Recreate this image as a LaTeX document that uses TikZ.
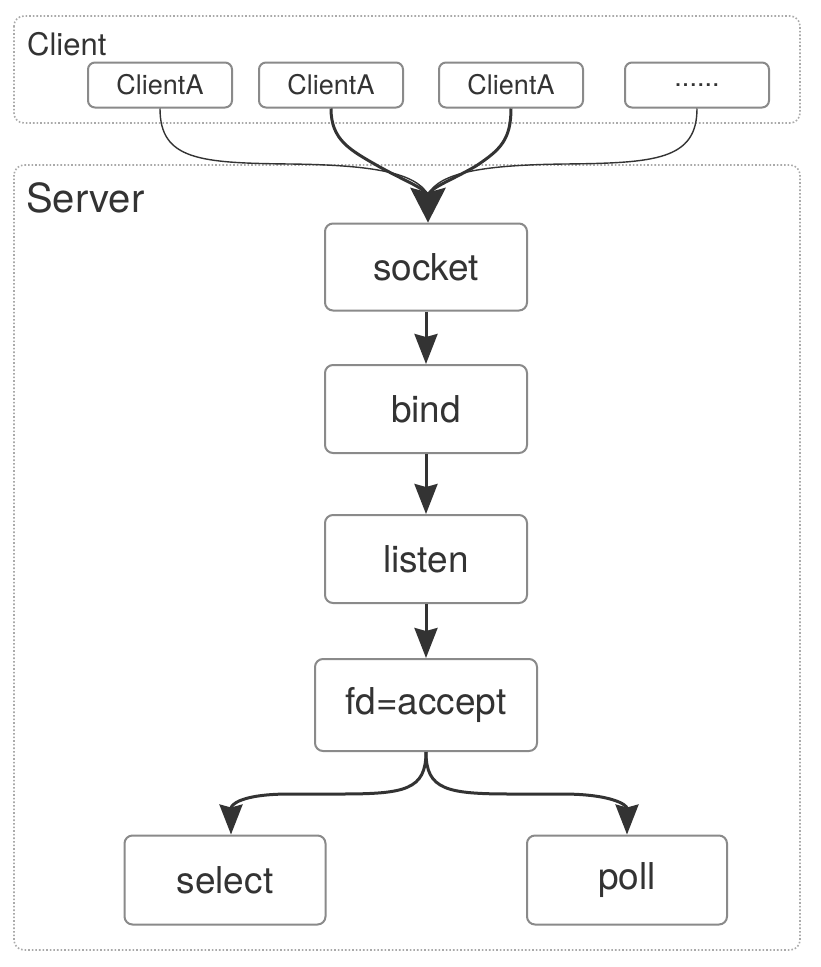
\documentclass[tikz,border=0pt]{standalone}
\usepackage{fontspec}
\setmainfont{TeX Gyre Heros}
\usetikzlibrary{arrows.meta}
\definecolor{txt}{HTML}{333333}
\definecolor{bord}{HTML}{8A8A8A}
\definecolor{grp}{HTML}{AAAAAA}
\definecolor{arr}{HTML}{333333}
\begin{document}
\begin{tikzpicture}[x=1pt,y=-1pt,
  box/.style={draw=bord,line width=2pt,rounded corners=8pt,fill=white,text=txt,
    inner sep=0pt,font=\fontsize{37}{40}\selectfont},
  cbox/.style={draw=bord,line width=2pt,rounded corners=7pt,fill=white,text=txt,
    inner sep=0pt,minimum width=144pt,minimum height=45pt,font=\fontsize{27}{30}\selectfont},
  grpbox/.style={draw=grp,line width=1.6pt,dotted,rounded corners=10pt},
  flow/.style={draw=arr,line width=3pt,-{Stealth[length=30pt,width=23pt,inset=3pt]}},
  thinflow/.style={draw=arr,line width=1.4pt},
  thickflow/.style={draw=arr,line width=3pt},
  lbl/.style={anchor=west,text=txt,inner sep=0pt}
]
\useasboundingbox (0,0) rectangle (821,967);
\fill[white] (0,0) rectangle (821,967);
% groups
\draw[grpbox] (14,16) rectangle (800,123);
\node[lbl,font=\fontsize{31}{34}\selectfont] (clientlbl) at (27,44) {Client};
\draw[grpbox] (14,165) rectangle (800,950);
\node[lbl,font=\fontsize{40}{44}\selectfont] (serverlbl) at (26,198) {Server};
% client nodes
\node[cbox] (c1) at (160,85) {ClientA};
\node[cbox] (c2) at (331,85) {ClientA};
\node[cbox] (c3) at (511,85) {ClientA};
\node[cbox] (c4) at (697,85) {......};
% server nodes
\node[box,minimum width=202pt,minimum height=87pt] (socket) at (426,267) {socket};
\node[box,minimum width=202pt,minimum height=88pt] (bind) at (426,409) {bind};
\node[box,minimum width=202pt,minimum height=88pt] (listen) at (426,559) {listen};
\node[box,minimum width=222pt,minimum height=92pt] (accept) at (426,705) {fd=accept};
\node[box,minimum width=201pt,minimum height=89pt] (select) at (225,880) {select};
\node[box,minimum width=200pt,minimum height=89pt] (poll) at (627,880) {poll};
% client connectors
\coordinate (tip) at ([xshift=2pt]socket.north);
\coordinate (join) at ([yshift=28pt]tip);
\draw[thinflow] (c1.south) .. controls (160,160) and (200,163) .. (290,164) .. controls (370,165) and (415,172) .. (join);
\draw[thinflow] (c4.south) .. controls (697,160) and (655,163) .. (565,164) .. controls (485,165) and (440,172) .. (join);
\draw[thickflow] (c2.south) .. controls (331,140) and (350,150) .. (378,166) .. controls (405,181) and (420,186) .. (join);
\draw[thickflow] (c3.south) .. controls (511,140) and (500,150) .. (476,166) .. controls (450,181) and (434,186) .. (join);
\fill[arr] (tip) -- ([xshift=-18pt,yshift=35pt]tip) -- ([yshift=30pt]tip) -- ([xshift=18pt,yshift=35pt]tip) -- cycle;
% main flow
\draw[flow] (socket) -- (bind);
\draw[flow] (bind) -- (listen);
\draw[flow] (listen) -- (accept);
\coordinate (sl) at ([xshift=6pt]select.north);
\coordinate (pr) at ([xshift=0pt]poll.north);
\draw[flow] (accept.south) .. controls (426,790) and (405,794) .. (340,794) -- (290,794) .. controls (240,794) and (231,805) .. (sl);
\draw[flow] (accept.south) .. controls (426,790) and (447,794) .. (512,794) -- (562,794) .. controls (612,794) and (627,805) .. (pr);
\end{tikzpicture}
\end{document}
